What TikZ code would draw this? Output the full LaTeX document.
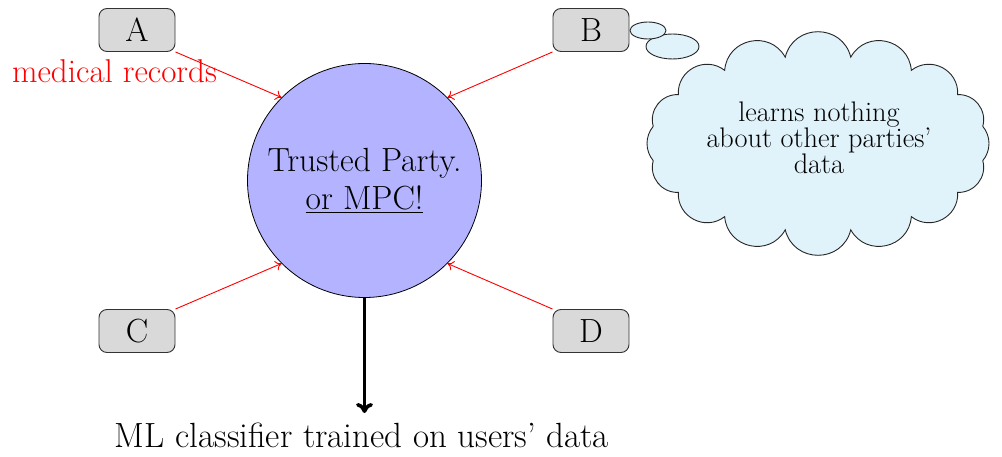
\documentclass[tikz,border=0pt]{standalone}
\usetikzlibrary{shapes.geometric,arrows.meta}
\definecolor{partyfill}{RGB}{217,217,217}
\definecolor{tpfill}{RGB}{179,179,255}
\definecolor{bubblefill}{RGB}{224,242,250}
\begin{document}
\begin{tikzpicture}[x=1pt,y=-1pt,
  every node/.style={font=\fontsize{33.5}{38}\selectfont},
  party/.style={draw=black!80, fill=partyfill, rounded corners=8pt,
    minimum width=76pt, minimum height=43pt, inner sep=0pt, line width=0.9pt},
  trusted/.style={circle, draw=black, fill=tpfill, minimum size=234pt,
    inner sep=0pt, line width=0.8pt, align=center},
  feed/.style={red, line width=0.9pt,
    -{Computer Modern Rightarrow[length=6pt,width=10pt]}},
  output/.style={line width=3.6pt,
    -{Computer Modern Rightarrow[length=10pt,width=17pt]}},
  bubble/.style={draw=black!85, fill=bubblefill, line width=0.9pt, inner sep=0pt},
  thought/.style={font=\fontsize{28.3}{25}\selectfont, align=center}
]
\useasboundingbox (0,0) rectangle (1002,457);

% parties around the trusted party
\node[party] (A) at (137,30) {A};
\node[party] (B) at (591,30) {B};
\node[party] (C) at (137,331) {C};
\node[party] (D) at (591,331) {D};

\node[trusted] (TP) at (364.5,180.5)
  {Trusted Party.\\\underline{or MPC!}};

\node[red, anchor=base, font=\fontsize{33}{38}\selectfont] (rec) at (114.5,83)
  {medical records};

% inputs
\draw[feed] (A.south east) -- (TP.north west);
\draw[feed] (B.south west) -- (TP.north east);
\draw[feed] (C.north east) -- (TP.south west);
\draw[feed] (D.north west) -- (TP.south east);

% output
\coordinate (tip) at (364.5,413);
\draw[output] (TP.south) -- (tip);
\node[anchor=base, font=\fontsize{35}{40}\selectfont] (ml) at (362,447)
  {ML classifier trained on users' data};

% thought bubble of party B: sixteen puffs whose cusps sit on an ellipse
\foreach \k in {0,...,16}
  \coordinate (cusp\k) at ({818+168*cos(11.25+22.5*\k)}, {143.5-88*sin(11.25+22.5*\k)});
\path[bubble] (cusp0)
  \foreach \k [evaluate=\k as \bnd using {40+36*abs(sin(22.5*\k))},
               evaluate=\k as \ls using {0.851/(cos((40+36*abs(sin(22.5*\k)))/2))^2}]
    in {1,...,16} { to[bend right=\bnd, looseness=\ls] (cusp\k) } -- cycle;
\node[bubble, ellipse, minimum width=53pt, minimum height=25pt] (e2) at (672.5,46.5) {};
\node[bubble, ellipse, minimum width=36pt, minimum height=17pt] (e1) at (648,30.5) {};
\node[thought] (idea) at (819,138) {learns nothing\\about other parties'\\data};
\end{tikzpicture}
\end{document}
